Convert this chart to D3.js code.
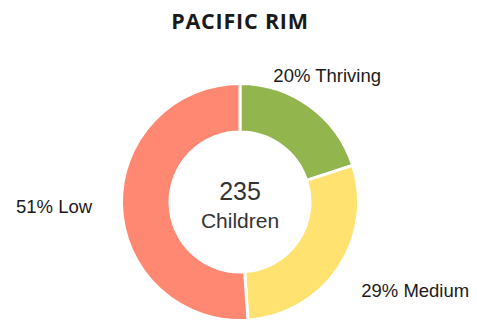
<!DOCTYPE html>
<html>
<head>
<meta charset="utf-8">
<script src="https://cdn.jsdelivr.net/npm/d3@7"></script>
<style>
  html, body { margin: 0; padding: 0; background: #fff; }
  svg { display: block; }
</style>
</head>
<body>
<svg id="chart" width="477" height="320"></svg>
<script>
// Wellbeing groups for the region
const categories = ["Thriving", "Medium", "Low"];
const counts = [47, 68, 120];
const percents = [20, 29, 51];
const colors = ["#92b54e", "#ffe26f", "#ff8872"];
const totalLabel = "235";
const unitLabel = "Children";
const title = "PACIFIC RIM";

const width = 477, height = 320;
const cx = 240, cy = 202;
const outerR = 118.5, innerR = 70;

// label placement: radius along mid-angle plus a nudge and anchor
const labelLayout = [
  { r: 150, dx: -1, dy: 1, anchor: "middle" },
  { r: 150, dx: -3, dy: 11, anchor: "start" },
  { r: 150, dx: 2, dy: 6, anchor: "end" }
];

const svg = d3.select("#chart");

svg.append("text")
  .attr("x", 240).attr("y", 28.5)
  .attr("text-anchor", "middle")
  .attr("font-family", "'Open Sans', sans-serif")
  .attr("font-weight", 700)
  .attr("font-size", 21.5)
  .attr("letter-spacing", 0.8)
  .attr("fill", "#1a1a1a")
  .text(title);

const data = categories.map((c, i) => ({ cat: c, value: counts[i], pct: percents[i], color: colors[i] }));

const pie = d3.pie().value(d => d.value).sort(null);
const arcs = pie(data);
const arc = d3.arc().innerRadius(innerR).outerRadius(outerR);

const g = svg.append("g").attr("transform", `translate(${cx},${cy})`);

g.selectAll("path")
  .data(arcs)
  .join("path")
  .attr("d", arc)
  .attr("fill", d => d.data.color)
  .attr("stroke", "#fff")
  .attr("stroke-width", 3);

g.selectAll("text.lbl")
  .data(arcs)
  .join("text")
  .attr("class", "lbl")
  .attr("x", (d, i) => {
    const a = (d.startAngle + d.endAngle) / 2;
    return labelLayout[i].r * Math.sin(a) + labelLayout[i].dx;
  })
  .attr("y", (d, i) => {
    const a = (d.startAngle + d.endAngle) / 2;
    return -labelLayout[i].r * Math.cos(a) + labelLayout[i].dy;
  })
  .attr("text-anchor", (d, i) => labelLayout[i].anchor)
  .attr("font-family", "'Liberation Sans', Arial, sans-serif")
  .attr("font-size", 18.5)
  .attr("fill", "#1a1a1a")
  .text(d => `${d.data.pct}% ${d.data.cat}`);

g.append("text")
  .attr("x", 0).attr("y", -2)
  .attr("text-anchor", "middle")
  .attr("font-family", "'Liberation Sans', Arial, sans-serif")
  .attr("font-size", 25)
  .attr("fill", "#333")
  .text(totalLabel);

g.append("text")
  .attr("x", 0).attr("y", 26)
  .attr("text-anchor", "middle")
  .attr("font-family", "'Liberation Sans', Arial, sans-serif")
  .attr("font-size", 21)
  .attr("fill", "#333")
  .text(unitLabel);
</script>
</body>
</html>
